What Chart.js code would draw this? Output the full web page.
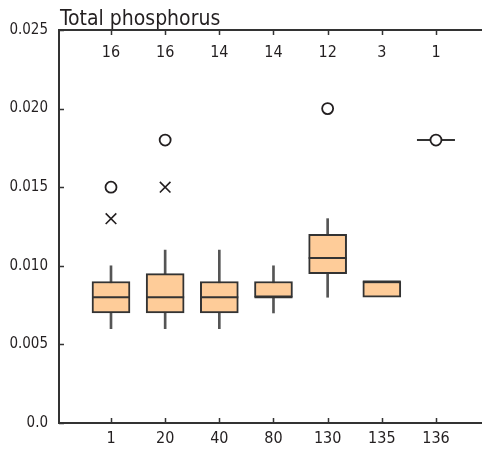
<!DOCTYPE html>
<html>
<head>
<meta charset="utf-8">
<script src="https://cdn.jsdelivr.net/npm/chart.js@4"></script>
<style>
  html, body { margin: 0; padding: 0; background: #fff; }
  #wrap { width: 482px; height: 450px; position: relative; }
</style>
</head>
<body>
<div id="wrap"><canvas id="boxChart"></canvas></div>
<script>
// sites along the river and number of samples at each
const categories = ['1', '20', '40', '80', '130', '135', '136'];
const counts = [16, 16, 14, 14, 12, 3, 1];

// box statistics, mg/L
const whiskerLow = [0.006, 0.006, 0.006, 0.007, 0.008, null, null];
const q1 = [0.007, 0.007, 0.007, 0.008, 0.0095, 0.008, null];
const median = [0.008, 0.008, 0.008, 0.008, 0.0105, 0.009, 0.018];
const q3 = [0.009, 0.0095, 0.009, 0.009, 0.012, 0.009, null];
const whiskerHigh = [0.010, 0.011, 0.011, 0.010, 0.013, null, null];

// outside values (x) and far-out values (o)
const outsideValues = [0.013, 0.015, null, null, null, null, null];
const farOutValues = [0.015, 0.018, null, null, 0.020, null, 0.018];

const yTicks = [0, 0.005, 0.010, 0.015, 0.020, 0.025];

const FONT = "'DejaVu Sans Condensed', 'Liberation Sans Narrow', sans-serif";
const INK = '#231f20';

Chart.defaults.font.family = FONT;
Chart.defaults.color = INK;

function pairs(lo, hi) {
    const out = [];
    categories.forEach((c, i) => {
        if (lo[i] != null && hi[i] != null) out.push({ x: i + 1, y: [lo[i], hi[i]] });
    });
    return out;
}

function points(vals) {
    const out = [];
    vals.forEach((v, i) => {
        if (v != null) out.push({ x: i + 1, y: v });
    });
    return out;
}

// ticks pointing into the plot, top axis line, sample counts and title
const framePlugin = {
    id: 'frame',
    afterDraw(chart) {
        const ctx = chart.ctx;
        const area = chart.chartArea;
        const xs = chart.scales.x;
        const ys = chart.scales.y;
        ctx.save();
        ctx.strokeStyle = '#333';
        ctx.lineWidth = 2;
        ctx.beginPath();
        ctx.moveTo(area.left, area.top);
        ctx.lineTo(chart.width, area.top);
        ctx.stroke();

        ctx.lineWidth = 1.5;
        ctx.beginPath();
        yTicks.forEach(v => {
            const py = Math.round(ys.getPixelForValue(v)) + 0.5;
            ctx.moveTo(area.left, py);
            ctx.lineTo(area.left + 5, py);
        });
        categories.forEach((c, i) => {
            const px = Math.round(xs.getPixelForValue(i + 1)) + 0.5;
            ctx.moveTo(px, area.bottom);
            ctx.lineTo(px, area.bottom - 5);
            ctx.moveTo(px, area.top);
            ctx.lineTo(px, area.top + 5);
        });
        ctx.stroke();

        ctx.fillStyle = INK;
        ctx.font = '16px ' + FONT;
        ctx.textAlign = 'center';
        ctx.textBaseline = 'middle';
        counts.forEach((n, i) => {
            ctx.fillText(String(n), xs.getPixelForValue(i + 1), area.top + 23);
        });

        ctx.font = '21px ' + FONT;
        ctx.textAlign = 'left';
        ctx.textBaseline = 'alphabetic';
        ctx.fillText('Total phosphorus', area.left + 1, 25);
        ctx.restore();
    }
};

const ctx = document.getElementById('boxChart').getContext('2d');
const boxChart = new Chart(ctx, {
    type: 'bar',
    data: {
        datasets: [
            {
                label: 'whiskers',
                data: pairs(whiskerLow, whiskerHigh),
                backgroundColor: '#555',
                barThickness: 2,
                grouped: false,
                order: 3
            },
            {
                label: 'boxes',
                data: pairs(q1, q3),
                backgroundColor: '#fecc99',
                borderColor: '#333',
                borderWidth: 2,
                borderSkipped: false,
                barThickness: 38,
                grouped: false,
                order: 2
            },
            {
                type: 'scatter',
                label: 'median',
                data: points(median),
                pointStyle: 'line',
                pointRadius: 19,
                borderColor: '#333',
                borderWidth: 2,
                order: 1
            },
            {
                type: 'scatter',
                label: 'outside',
                data: points(outsideValues),
                pointStyle: 'crossRot',
                pointRadius: 7.5,
                borderColor: INK,
                borderWidth: 1.6,
                order: 0
            },
            {
                type: 'scatter',
                label: 'far out',
                data: points(farOutValues),
                pointStyle: 'circle',
                pointRadius: 5.5,
                backgroundColor: '#fff',
                borderColor: INK,
                borderWidth: 1.8,
                order: 0
            }
        ]
    },
    options: {
        responsive: true,
        maintainAspectRatio: false,
        animation: false,
        events: [],
        layout: { autoPadding: false, padding: { top: 30, left: 0, right: 0, bottom: 0 } },
        plugins: {
            legend: { display: false },
            tooltip: { enabled: false }
        },
        scales: {
            x: {
                type: 'linear',
                min: 0.04,
                max: 7.85,
                offset: false,
                afterFit: s => { s.height = 27; s.paddingRight = 0; s.paddingLeft = 0; },
                afterBuildTicks: s => {
                    s.ticks = categories.map((c, i) => ({ value: i + 1 }));
                },
                grid: { display: false, drawTicks: false },
                border: { color: '#333', width: 2 },
                ticks: {
                    autoSkip: false,
                    maxRotation: 0,
                    padding: 6,
                    font: { size: 16 },
                    callback: v => categories[v - 1] ?? ''
                }
            },
            y: {
                min: 0,
                max: 0.025,
                afterFit: s => { s.width = 59; },
                grid: { display: false, drawTicks: false },
                border: { color: '#333', width: 2 },
                ticks: {
                    stepSize: 0.005,
                    padding: 11,
                    font: { size: 15 },
                    callback: v => v === 0 ? '0.0' : v.toFixed(3)
                }
            }
        }
    },
    plugins: [framePlugin]
});
</script>
</body>
</html>
